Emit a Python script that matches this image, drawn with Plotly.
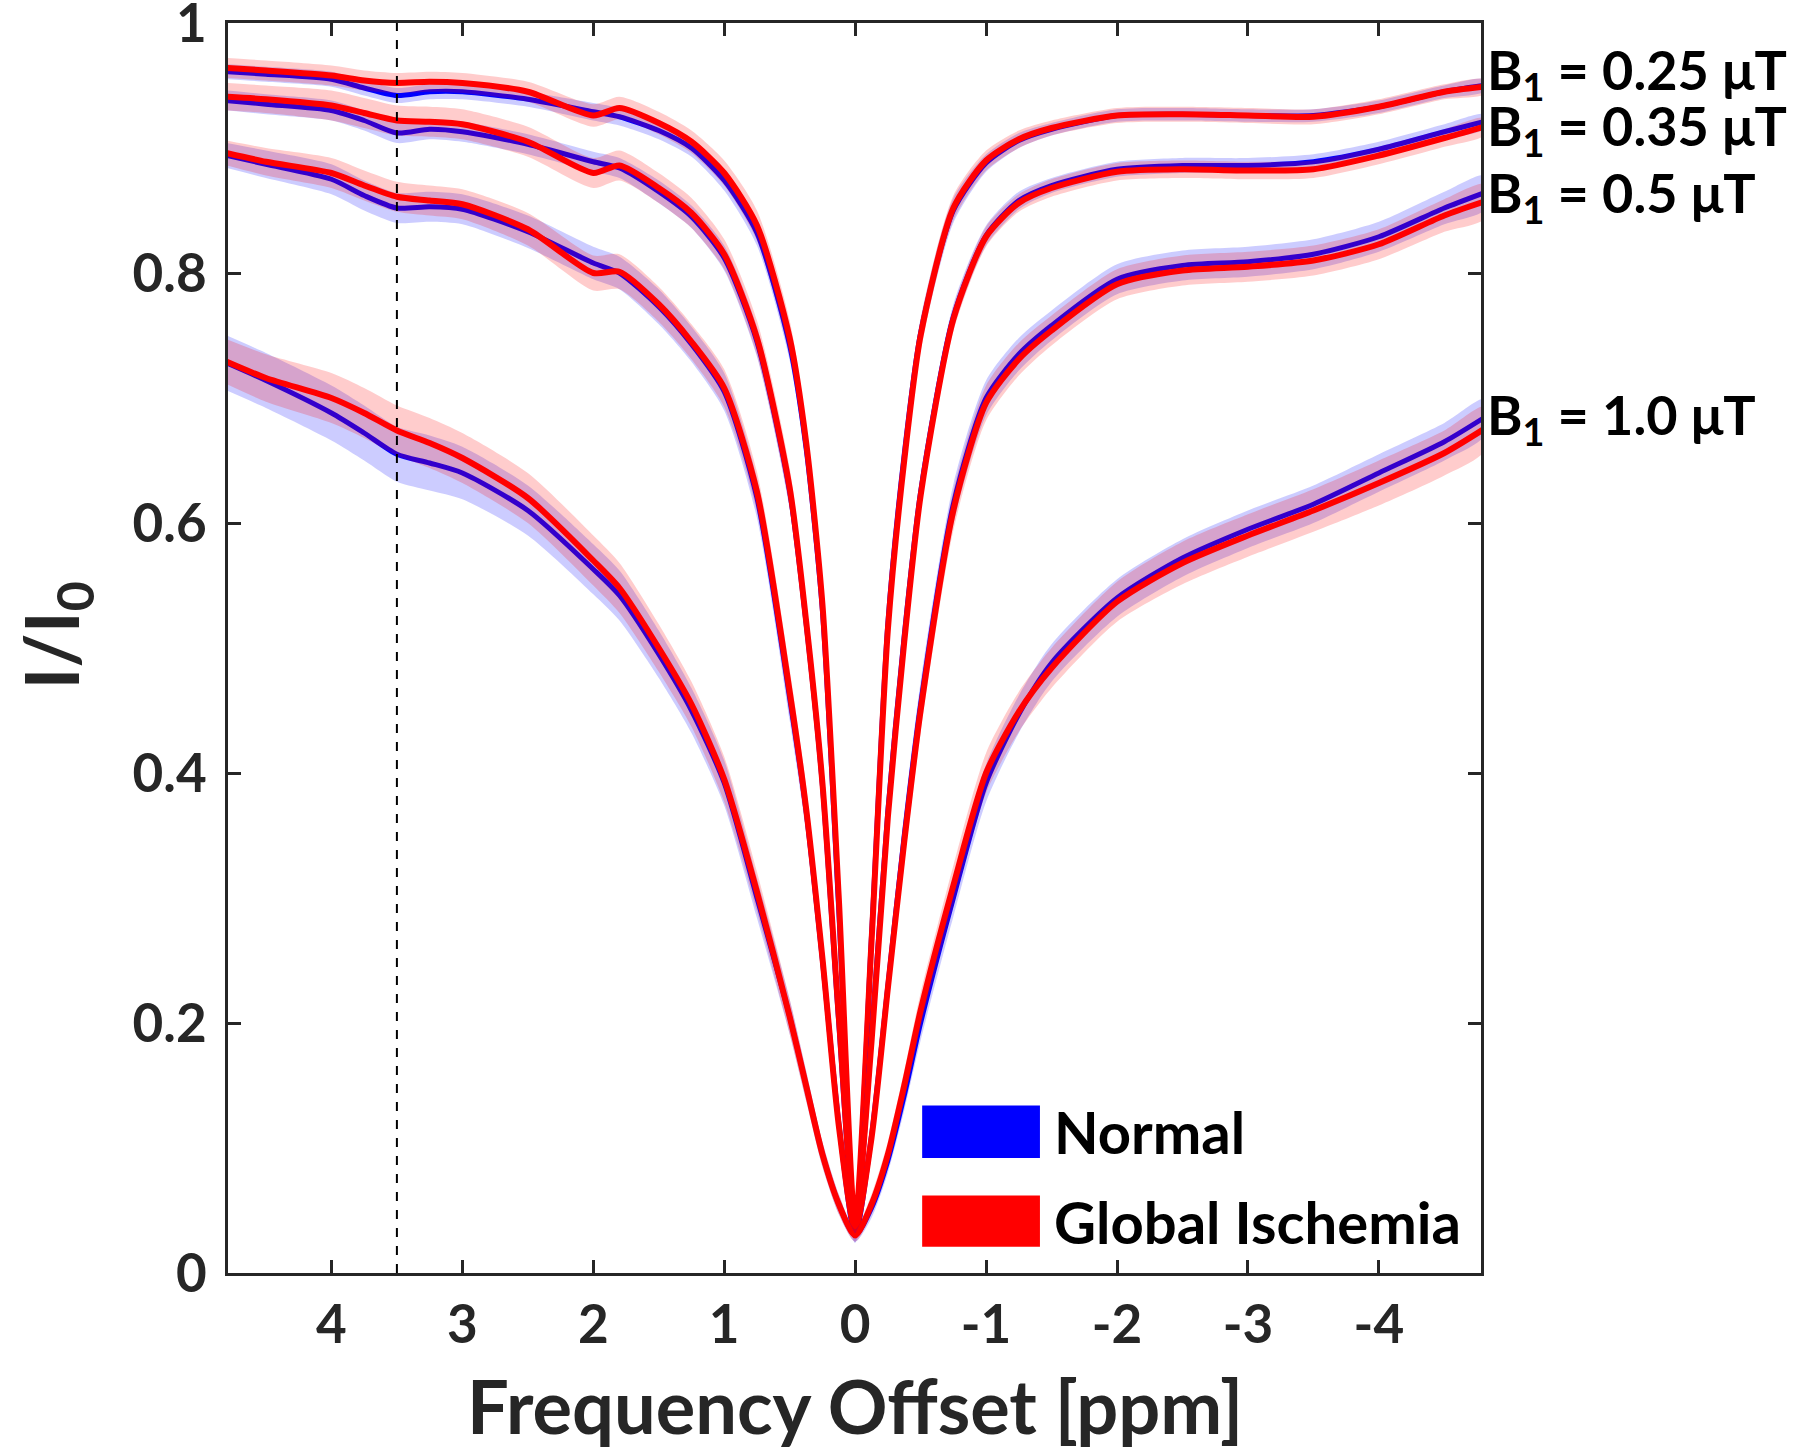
import plotly.graph_objects as go

# frequency offsets (ppm) at which the Z-spectra were read
ppm = [4.8, 4.5, 4.0, 3.75, 3.5, 3.25, 3.0, 2.5, 2.0, 1.8, 1.5, 1.25, 1.0, 0.75, 0.5, 0.375, 0.25, 0.125, 0.0,
       -0.125, -0.25, -0.375, -0.5, -0.75, -1.0, -1.25, -1.5, -2.0, -2.5, -3.0, -3.5, -4.0, -4.5, -4.8]

# mean I/I0, normal myocardium
normal_025 = [0.961, 0.959, 0.955, 0.948, 0.942, 0.945, 0.945, 0.939, 0.929, 0.925, 0.914, 0.900, 0.874, 0.832, 0.742, 0.660, 0.530, 0.290, 0.035,
              0.270, 0.520, 0.655, 0.752, 0.850, 0.888, 0.906, 0.915, 0.926, 0.927, 0.926, 0.926, 0.933, 0.945, 0.950]
normal_035 = [0.938, 0.935, 0.930, 0.922, 0.912, 0.915, 0.913, 0.903, 0.889, 0.884, 0.865, 0.845, 0.812, 0.745, 0.625, 0.520, 0.390, 0.200, 0.035,
              0.190, 0.370, 0.510, 0.625, 0.765, 0.830, 0.858, 0.870, 0.883, 0.886, 0.886, 0.889, 0.899, 0.913, 0.921]
normal_05 = [0.894, 0.887, 0.875, 0.862, 0.852, 0.853, 0.851, 0.833, 0.808, 0.800, 0.773, 0.743, 0.705, 0.620, 0.460, 0.370, 0.250, 0.120, 0.030,
             0.110, 0.230, 0.350, 0.455, 0.615, 0.700, 0.735, 0.758, 0.795, 0.806, 0.809, 0.815, 0.829, 0.852, 0.864]
normal_10 = [0.728, 0.714, 0.688, 0.672, 0.655, 0.648, 0.640, 0.610, 0.563, 0.542, 0.495, 0.450, 0.392, 0.300, 0.205, 0.150, 0.095, 0.055, 0.030,
             0.052, 0.090, 0.142, 0.200, 0.300, 0.392, 0.447, 0.488, 0.540, 0.572, 0.595, 0.615, 0.640, 0.665, 0.684]

# mean I/I0, global ischemia
isch_025 = [0.964, 0.962, 0.958, 0.954, 0.952, 0.953, 0.952, 0.945, 0.926, 0.932, 0.920, 0.905, 0.880, 0.838, 0.748, 0.665, 0.535, 0.300, 0.040,
            0.265, 0.515, 0.650, 0.750, 0.852, 0.890, 0.907, 0.916, 0.926, 0.927, 0.926, 0.925, 0.933, 0.945, 0.949]
isch_035 = [0.941, 0.939, 0.934, 0.928, 0.922, 0.921, 0.919, 0.905, 0.880, 0.886, 0.868, 0.848, 0.815, 0.748, 0.628, 0.522, 0.392, 0.205, 0.040,
            0.185, 0.365, 0.505, 0.622, 0.763, 0.829, 0.856, 0.868, 0.881, 0.883, 0.882, 0.883, 0.894, 0.908, 0.917]
isch_05 = [0.896, 0.889, 0.880, 0.870, 0.861, 0.858, 0.855, 0.835, 0.800, 0.801, 0.775, 0.745, 0.708, 0.625, 0.465, 0.372, 0.252, 0.118, 0.035,
           0.108, 0.228, 0.345, 0.450, 0.610, 0.696, 0.731, 0.754, 0.791, 0.802, 0.805, 0.810, 0.823, 0.846, 0.857]
isch_10 = [0.729, 0.716, 0.700, 0.688, 0.674, 0.664, 0.652, 0.620, 0.570, 0.548, 0.500, 0.455, 0.395, 0.305, 0.205, 0.150, 0.095, 0.055, 0.030,
           0.055, 0.095, 0.150, 0.210, 0.310, 0.400, 0.449, 0.484, 0.537, 0.568, 0.590, 0.610, 0.632, 0.656, 0.675]

# standard deviations (shaded bands)
sd_normal_025 = [0.006, 0.006, 0.006, 0.006, 0.006, 0.006, 0.006, 0.006, 0.007, 0.007, 0.007, 0.007, 0.008, 0.010, 0.012, 0.012, 0.012, 0.010, 0.005,
                 0.010, 0.012, 0.012, 0.012, 0.010, 0.007, 0.006, 0.005, 0.005, 0.005, 0.005, 0.005, 0.005, 0.005, 0.005]
sd_isch_025 = [0.008, 0.008, 0.008, 0.008, 0.008, 0.008, 0.008, 0.008, 0.009, 0.009, 0.009, 0.009, 0.010, 0.012, 0.014, 0.014, 0.014, 0.012, 0.006,
               0.012, 0.014, 0.014, 0.013, 0.010, 0.008, 0.007, 0.006, 0.006, 0.006, 0.006, 0.006, 0.006, 0.006, 0.006]
sd_normal_035 = [0.008, 0.008, 0.008, 0.008, 0.008, 0.008, 0.008, 0.008, 0.008, 0.008, 0.009, 0.009, 0.010, 0.012, 0.014, 0.014, 0.014, 0.012, 0.006,
                 0.012, 0.014, 0.014, 0.013, 0.010, 0.008, 0.007, 0.006, 0.006, 0.006, 0.006, 0.006, 0.006, 0.006, 0.006]
sd_isch_035 = [0.011, 0.011, 0.012, 0.012, 0.012, 0.012, 0.012, 0.012, 0.012, 0.012, 0.012, 0.012, 0.012, 0.014, 0.016, 0.016, 0.015, 0.012, 0.006,
               0.012, 0.014, 0.014, 0.013, 0.010, 0.008, 0.007, 0.007, 0.007, 0.007, 0.007, 0.007, 0.007, 0.007, 0.007]
sd_normal_05 = [0.010, 0.011, 0.012, 0.012, 0.012, 0.012, 0.012, 0.013, 0.013, 0.013, 0.014, 0.014, 0.015, 0.016, 0.018, 0.018, 0.016, 0.012, 0.006,
                0.012, 0.016, 0.018, 0.018, 0.016, 0.014, 0.013, 0.012, 0.012, 0.012, 0.012, 0.012, 0.012, 0.013, 0.014]
sd_isch_05 = [0.010, 0.011, 0.012, 0.012, 0.012, 0.012, 0.012, 0.013, 0.014, 0.014, 0.014, 0.014, 0.015, 0.016, 0.018, 0.018, 0.016, 0.012, 0.006,
              0.012, 0.016, 0.018, 0.018, 0.016, 0.014, 0.013, 0.012, 0.012, 0.012, 0.012, 0.012, 0.012, 0.013, 0.014]
sd_normal_10 = [0.022, 0.022, 0.022, 0.022, 0.022, 0.022, 0.021, 0.020, 0.020, 0.020, 0.019, 0.018, 0.018, 0.016, 0.014, 0.012, 0.010, 0.008, 0.005,
                0.008, 0.010, 0.012, 0.014, 0.015, 0.015, 0.015, 0.015, 0.015, 0.015, 0.015, 0.015, 0.015, 0.015, 0.015]
sd_isch_10 = [0.018, 0.019, 0.020, 0.020, 0.020, 0.020, 0.020, 0.020, 0.020, 0.020, 0.019, 0.018, 0.018, 0.016, 0.014, 0.012, 0.010, 0.008, 0.005,
              0.008, 0.010, 0.012, 0.014, 0.016, 0.016, 0.016, 0.016, 0.016, 0.017, 0.017, 0.017, 0.018, 0.018, 0.018]

b1_labels = ["0.25", "0.35", "0.5", "1.0"]
normal_means = [normal_025, normal_035, normal_05, normal_10]
isch_means = [isch_025, isch_035, isch_05, isch_10]
normal_sds = [sd_normal_025, sd_normal_035, sd_normal_05, sd_normal_10]
isch_sds = [sd_isch_025, sd_isch_035, sd_isch_05, sd_isch_10]

amide_ppm = 3.5
x_ticks = [4, 3, 2, 1, 0, -1, -2, -3, -4]
y_ticks = [0, 0.2, 0.4, 0.6, 0.8, 1]

FONT = "Lato"
AXIS_COLOR = "#262626"
BLUE, RED = "#0000ff", "#ff0000"
BLUE_FILL, RED_FILL = "rgba(0,0,255,0.2)", "rgba(255,0,0,0.2)"
SMOOTH = 0.7


def band(mean, sd, fill):
    upper = [m + s for m, s in zip(mean, sd)]
    lower = [m - s for m, s in zip(mean, sd)]
    return go.Scatter(x=ppm + ppm[::-1], y=upper + lower[::-1], fill="toself",
                      fillcolor=fill, line=dict(width=0, shape="spline", smoothing=SMOOTH),
                      mode="lines", hoverinfo="skip", showlegend=False)


def curve(mean, color, width):
    return go.Scatter(x=ppm, y=mean, mode="lines", showlegend=False,
                      line=dict(color=color, width=width, shape="spline", smoothing=SMOOTH))


fig = go.Figure()
for n_m, n_s, i_m, i_s in zip(normal_means, normal_sds, isch_means, isch_sds):
    fig.add_trace(band(n_m, n_s, BLUE_FILL))
    fig.add_trace(curve(n_m, BLUE, 5))
    fig.add_trace(band(i_m, i_s, RED_FILL))
    fig.add_trace(curve(i_m, RED, 6))

# amide offset marker
fig.add_shape(type="line", x0=amide_ppm, x1=amide_ppm, xref="x", y0=0, y1=1, yref="paper",
              line=dict(color="black", width=2, dash="dash"))

# B1 labels just right of the axes
label_y = [0.960, 0.915, 0.862, 0.684]
for lab, ly in zip(b1_labels, label_y):
    fig.add_annotation(text=f"B<sub>1</sub> = {lab} μT", xref="paper", x=1, xanchor="left", xshift=4,
                       yref="y", y=ly, yanchor="middle", showarrow=False,
                       font=dict(family=FONT, size=54, weight="bold", color="black"))

# legend drawn by hand to get the wide colour patches
for name, col, y0, y1 in [("Normal", BLUE, 0.092, 0.134), ("Global Ischemia", RED, 0.021, 0.062)]:
    fig.add_shape(type="rect", xref="paper", yref="paper", x0=0.554, x1=0.648, y0=y0, y1=y1,
                  fillcolor=col, line=dict(width=0))
    fig.add_annotation(text=name, xref="paper", yref="paper", x=0.658, y=(y0 + y1) / 2,
                       xanchor="left", yanchor="middle", showarrow=False,
                       font=dict(family=FONT, size=58, weight="bold", color="black"))

# axis titles
fig.add_annotation(text="Frequency Offset [ppm]", xref="paper", yref="paper", x=0.5, y=-0.106,
                   xanchor="center", yanchor="middle", showarrow=False,
                   font=dict(family=FONT, size=74, weight="bold", color=AXIS_COLOR))
fig.add_annotation(text="I/I<sub>0</sub>", xref="paper", yref="paper", x=-0.138, y=0.51,
                   xanchor="center", yanchor="middle", textangle=-90, showarrow=False,
                   font=dict(family=FONT, size=74, weight="bold", color=AXIS_COLOR))

axis_common = dict(showline=True, linecolor=AXIS_COLOR, linewidth=2.5, mirror="ticks",
                   ticks="inside", ticklen=13, tickwidth=2.5, tickcolor=AXIS_COLOR,
                   showgrid=False, zeroline=False, ticklabeloverflow="allow", automargin=False,
                   tickfont=dict(family=FONT, size=53, weight="bold", color=AXIS_COLOR))

fig.update_xaxes(range=[4.79, -4.78], tickvals=x_ticks, ticktext=[str(t) for t in x_ticks],
                 ticklabelstandoff=4, **axis_common)
fig.update_yaxes(range=[0, 1], tickvals=y_ticks, ticktext=[f"{t:g}" for t in y_ticks],
                 ticklabelstandoff=8, **axis_common)

fig.update_layout(width=1800, height=1453, plot_bgcolor="white", paper_bgcolor="white",
                  margin=dict(l=228, r=319, t=23, b=180, autoexpand=False), showlegend=False)

fig.write_html("out.html", config={"displayModeBar": False},
               post_script="document.body.style.margin='0';")
